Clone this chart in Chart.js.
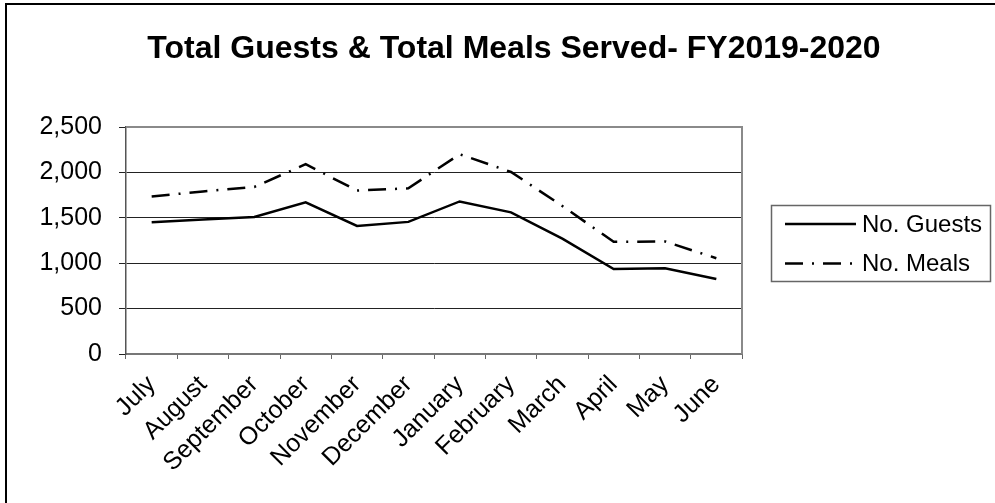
<!DOCTYPE html>
<html>
<head>
<meta charset="utf-8">
<script src="https://cdn.jsdelivr.net/npm/chart.js@4/dist/chart.umd.min.js"></script>
<style>
    body { margin: 0; background: #fff; overflow: hidden; }
    #wrap { position: relative; width: 995px; height: 503px; }
    #frame { position: absolute; left: 5px; top: 3px; width: 1000px; height: 520px;
        border-left: 2px solid #000; border-top: 2px solid #000; }
    #chart { position: absolute; left: 0; top: 0; }
</style>
</head>
<body>
<div id="wrap">
    <div id="frame"></div>
    <canvas id="chart" width="995" height="503"></canvas>
</div>
<script>
const months = [
    'July', 'August', 'September', 'October', 'November', 'December',
    'January', 'February', 'March', 'April', 'May', 'June',
];
const guests = [1450, 1480, 1510, 1670, 1410, 1455, 1680, 1560, 1270, 935, 945, 825];
const meals = [1735, 1790, 1840, 2090, 1800, 1825, 2200, 2005, 1630, 1235, 1240, 1055];
const titleText = 'Total Guests & Total Meals Served- FY2019-2020';

const fontFamily = "'Liberation Sans', Arial, sans-serif";

// title, plot border and boxed legend like the original sheet chart
const framePlugin = {
    id: 'frame',
    beforeDatasetsDraw(chart) {
        let ctx = chart.ctx, a = chart.chartArea;
        ctx.save();
        ctx.strokeStyle = '#8a8a8a';
        ctx.lineWidth = 2;
        ctx.beginPath();
        ctx.moveTo(a.left, a.top);
        ctx.lineTo(a.right, a.top);
        ctx.lineTo(a.right, a.bottom);
        ctx.stroke();
        ctx.restore();
    },
    afterDraw(chart) {
        let ctx = chart.ctx;
        ctx.save();
        ctx.fillStyle = '#000';
        ctx.font = 'bold 32px ' + fontFamily;
        ctx.textAlign = 'center';
        ctx.textBaseline = 'alphabetic';
        ctx.fillText(titleText, 514, 58);

        // legend
        ctx.strokeStyle = '#666';
        ctx.lineWidth = 1.5;
        ctx.strokeRect(771.5, 205.5, 219, 76);
        ctx.font = '24px ' + fontFamily;
        ctx.textAlign = 'left';
        ctx.textBaseline = 'middle';
        chart.data.datasets.forEach((ds, i) => {
            let y = 224 + i * 39.5;
            ctx.strokeStyle = ds.borderColor;
            ctx.lineWidth = ds.borderWidth;
            ctx.setLineDash(ds.borderDash || []);
            ctx.beginPath();
            ctx.moveTo(785, y);
            ctx.lineTo(856, y);
            ctx.stroke();
            ctx.setLineDash([]);
            ctx.fillText(ds.label, 862, y + 1);
        });
        ctx.restore();
    },
};

new Chart(document.getElementById('chart'), {
    type: 'line',
    data: {
        labels: months,
        datasets: [{
            label: 'No. Guests',
            data: guests,
            borderColor: '#000',
            borderWidth: 2.5,
            pointRadius: 0,
            tension: 0,
        }, {
            label: 'No. Meals',
            data: meals,
            borderColor: '#000',
            borderWidth: 2.5,
            borderDash: [18, 9, 2, 9],
            pointRadius: 0,
            tension: 0,
        }],
    },
    options: {
        responsive: false,
        animation: false,
        layout: { padding: { left: 36, right: 253, top: 127, bottom: 0 } },
        plugins: {
            legend: { display: false },
            title: { display: false },
            tooltip: { enabled: false },
        },
        scales: {
            x: {
                offset: true,
                grid: {
                    offset: true,
                    drawOnChartArea: false,
                    color: '#666',
                    tickLength: 5,
                },
                border: { color: '#777', width: 2 },
                ticks: {
                    color: '#000',
                    font: { family: fontFamily, size: 25 },
                    minRotation: 45,
                    maxRotation: 45,
                    autoSkip: false,
                    padding: 11,
                },
                afterFit: s => { s.height = 149; },
            },
            y: {
                min: 0,
                max: 2500,
                grid: { color: '#222', lineWidth: 1, tickLength: 7 },
                border: { color: '#555', width: 1.5 },
                ticks: {
                    stepSize: 500,
                    color: '#000',
                    padding: 17,
                    font: { family: fontFamily, size: 25 },
                    callback: v => v.toLocaleString('en-US'),
                },
                afterFit: s => { s.width = 90; },
            },
        },
    },
    plugins: [framePlugin],
});
</script>
</body>
</html>
